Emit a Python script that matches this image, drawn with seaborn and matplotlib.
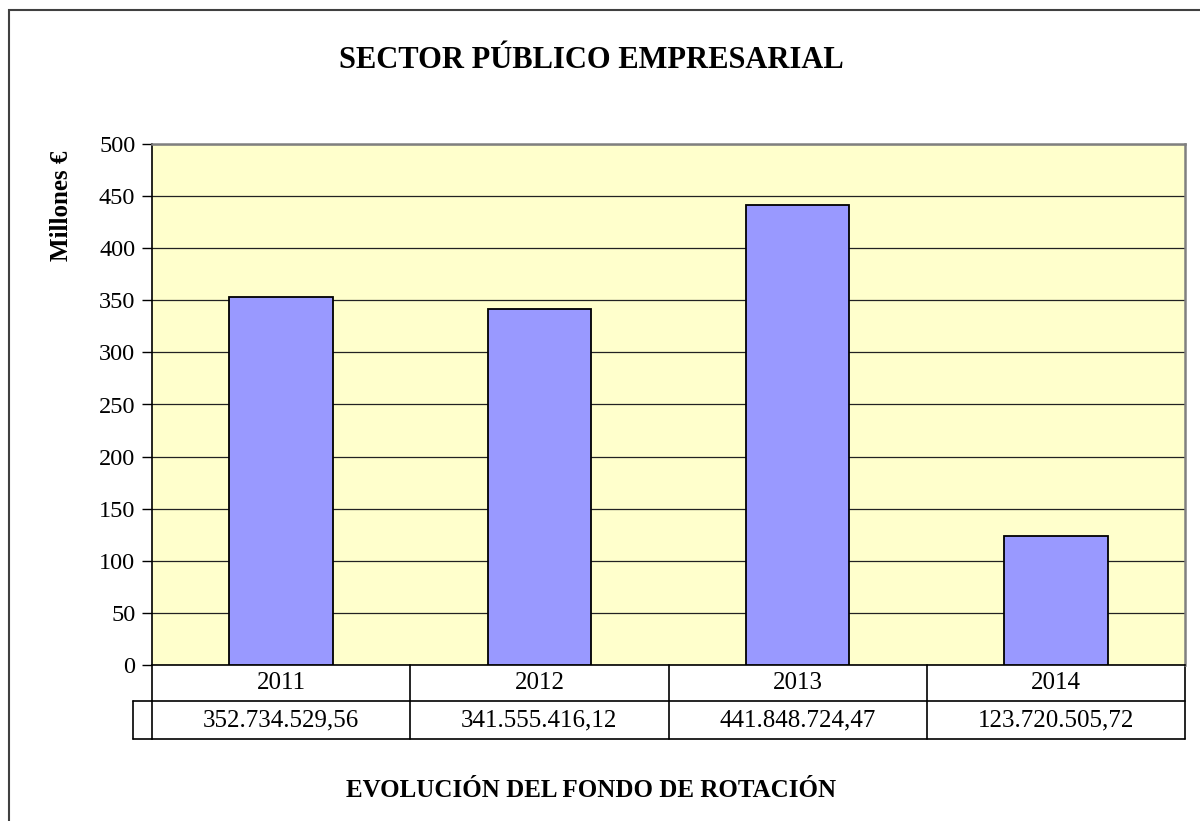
import matplotlib
matplotlib.use("Agg")
import matplotlib.pyplot as plt
import matplotlib.transforms as mtransforms
from matplotlib.patches import Rectangle
import seaborn as sns
import pandas as pd

years = ["2011", "2012", "2013", "2014"]
values_eur = [352734529.56, 341555416.12, 441848724.47, 123720505.72]
value_labels = ["352.734.529,56", "341.555.416,12", "441.848.724,47", "123.720.505,72"]
yticks = [0, 50, 100, 150, 200, 250, 300, 350, 400, 450, 500]

df = pd.DataFrame({"year": years, "millones": [v / 1e6 for v in values_eur]})

sns.set_theme(style="white")
plt.rcParams["font.family"] = ["Liberation Serif", "DejaVu Serif"]
plt.rcParams["text.color"] = "black"

fig = plt.figure(figsize=(12, 8.21), dpi=100)
ax = fig.add_axes([152/1200, 1-665/821, (1185-152)/1200, (665-144)/821])
ax.set_facecolor("#FFFFCC")

sns.barplot(data=df, x="year", y="millones", ax=ax, color="#9999FF",
            saturation=1, width=0.4, edgecolor="black", linewidth=1.3, zorder=3)

ax.set_ylim(0, 500)
ax.set_xlim(-0.5, 3.5)
ax.set_yticks(yticks)
ax.set_yticklabels([str(t) for t in yticks], fontsize=17.5, color="black")
ax.tick_params(axis="y", direction="out", length=7, width=1, color="black", pad=5, left=True)
ax.set_xticks([])
ax.set_xlabel("")
ax.set_ylabel("")
ax.yaxis.grid(True, color="#222222", linewidth=0.9, zorder=1)
ax.set_axisbelow(True)
for s in ["top", "right"]:
    ax.spines[s].set_color("#808080")
    ax.spines[s].set_linewidth(1.8)
ax.spines["left"].set_color("black")
ax.spines["left"].set_linewidth(1.2)
ax.spines["bottom"].set_color("black")
ax.spines["bottom"].set_linewidth(1.2)

# data table below axis
trans = mtransforms.blended_transform_factory(ax.transData, ax.transAxes)
ah = (665-144)
r1 = -(701-665)/ah
r2 = -(739-665)/ah
lbl_left = -(152-133)/(1185-152)
lkw = dict(color="black", linewidth=1.2, clip_on=False)
ax.plot([-0.5, 3.5], [r1, r1], transform=trans, **lkw)
ax.plot([-0.5, 3.5], [r2, r2], transform=trans, **lkw)
ax.plot([3.5, 3.5], [0, r2], transform=trans, **lkw)
for i in range(len(years)):
    ax.plot([i-0.5, i-0.5], [0, r2], transform=trans, **lkw)
    ax.text(i, r1/2, years[i], transform=trans, ha="center", va="center", fontsize=18)
    ax.text(i, (r1+r2)/2, value_labels[i], transform=trans, ha="center", va="center", fontsize=18)
# row label cell
ax.plot([lbl_left, lbl_left], [r1, r2], transform=ax.transAxes, **lkw)
ax.plot([lbl_left, 0], [r1, r1], transform=ax.transAxes, **lkw)
ax.plot([lbl_left, 0], [r2, r2], transform=ax.transAxes, **lkw)

fig.text(591/1200, 1-60/821, "SECTOR PÚBLICO EMPRESARIAL", ha="center", va="center",
         fontsize=22, fontweight="bold")
fig.text(62/1200, 1-206/821, "Millones €", ha="center", va="center", rotation=90,
         fontsize=18, fontweight="bold")
fig.text(591/1200, 1-790/821, "EVOLUCIÓN DEL FONDO DE ROTACIÓN", ha="center", va="center",
         fontsize=18, fontweight="bold")

fig.patches.append(Rectangle((9/1200, -0.05), 1.2, 1-10/821+0.05, transform=fig.transFigure,
                             fill=False, edgecolor="#404040", linewidth=1.5))

fig.savefig("out.png", dpi=100, facecolor="white")
